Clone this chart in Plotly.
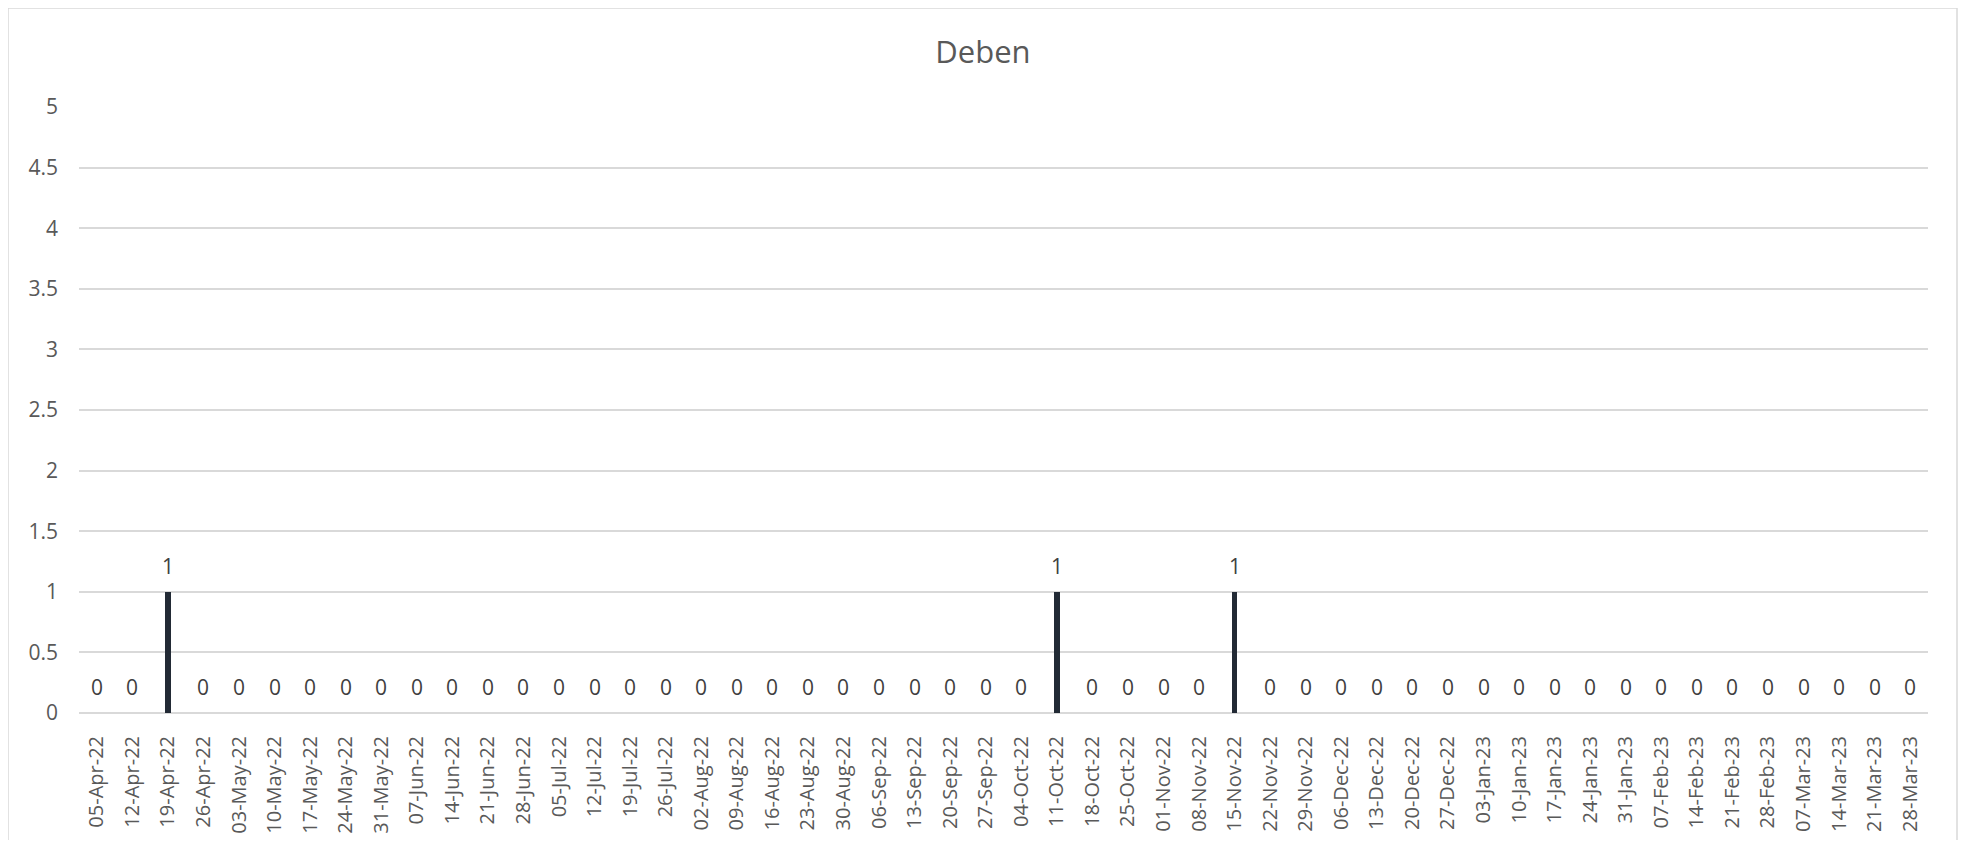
import plotly.graph_objects as go

# weekly dates (axis categories)
weeks = [
    "05-Apr-22", "12-Apr-22", "19-Apr-22", "26-Apr-22", "03-May-22", "10-May-22",
    "17-May-22", "24-May-22", "31-May-22", "07-Jun-22", "14-Jun-22", "21-Jun-22",
    "28-Jun-22", "05-Jul-22", "12-Jul-22", "19-Jul-22", "26-Jul-22", "02-Aug-22",
    "09-Aug-22", "16-Aug-22", "23-Aug-22", "30-Aug-22", "06-Sep-22", "13-Sep-22",
    "20-Sep-22", "27-Sep-22", "04-Oct-22", "11-Oct-22", "18-Oct-22", "25-Oct-22",
    "01-Nov-22", "08-Nov-22", "15-Nov-22", "22-Nov-22", "29-Nov-22", "06-Dec-22",
    "13-Dec-22", "20-Dec-22", "27-Dec-22", "03-Jan-23", "10-Jan-23", "17-Jan-23",
    "24-Jan-23", "31-Jan-23", "07-Feb-23", "14-Feb-23", "21-Feb-23", "28-Feb-23",
    "07-Mar-23", "14-Mar-23", "21-Mar-23", "28-Mar-23",
]
counts = [0] * len(weeks)
for d in ["19-Apr-22", "11-Oct-22", "15-Nov-22"]:
    counts[weeks.index(d)] = 1

y_ticks = [0, 0.5, 1, 1.5, 2, 2.5, 3, 3.5, 4, 4.5, 5]

font_family = "Open Sans, Liberation Sans, sans-serif"
grey = "#595959"

fig = go.Figure()
fig.add_trace(go.Bar(
    x=weeks,
    y=counts,
    width=0.15,
    marker=dict(color="#222a35", line=dict(width=0)),
    hoverinfo="x+y",
))

# data labels sitting above each bar
annotations = []
for w, c in zip(weeks, counts):
    annotations.append(dict(
        x=w, y=c, xref="x", yref="y",
        text=str(c), showarrow=False,
        yshift=26,
        font=dict(family=font_family, size=21, color="#404040"),
    ))

# page has an 8px body margin, so the figure is sized to fit inside it
fig.update_layout(
    width=1950,
    height=832,
    paper_bgcolor="white",
    plot_bgcolor="white",
    margin=dict(l=71, r=30, t=99, b=127),
    title=dict(
        text="Deben",
        x=0.5, xanchor="center",
        y=1 - 44 / 832, yanchor="middle", yref="container",
        font=dict(family=font_family, size=31, color=grey),
    ),
    showlegend=False,
    bargap=0,
    annotations=annotations,
    font=dict(family=font_family, color=grey),
    xaxis=dict(
        type="category",
        tickangle=-90,
        tickfont=dict(size=20, color=grey),
        showgrid=False,
        showline=False,
        ticks="",
        ticklabelstandoff=18,
        automargin=False,
    ),
    yaxis=dict(
        range=[0, 5],
        tickvals=y_ticks,
        ticktext=[f"{v:g}" for v in y_ticks],
        tickfont=dict(size=21, color=grey),
        showgrid=True,
        gridcolor="#d9d9d9",
        gridwidth=1.5,
        zeroline=True,
        zerolinecolor="#d9d9d9",
        zerolinewidth=1.5,
        showline=False,
        ticks="",
        ticklabelstandoff=20,
        automargin=False,
    ),
    shapes=[dict(
        type="rect", xref="paper", yref="paper",
        x0=(8 - 79) / 1849, x1=(1957 - 79) / 1849,
        y0=-0.4, y1=(713 - 8) / 606,
        line=dict(color="#d9d9d9", width=1.5),
        fillcolor="rgba(0,0,0,0)",
        layer="below",
    )],
)

fig.write_html("out.html")
